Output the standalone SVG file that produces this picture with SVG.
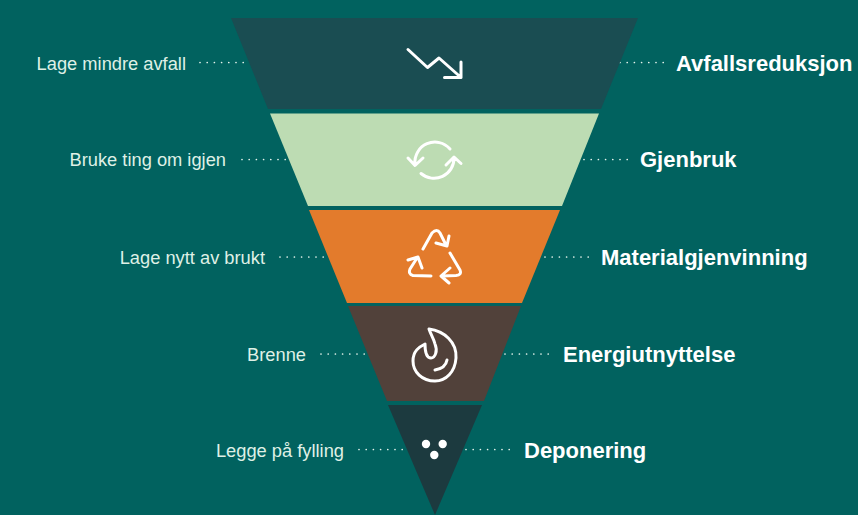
<svg xmlns="http://www.w3.org/2000/svg" width="858" height="515" viewBox="0 0 858 515">
<style>
.l{font:18.3px "Liberation Sans",Arial,sans-serif;fill:#dff0e6;text-anchor:end}
.r{font:bold 22px "Liberation Sans",Arial,sans-serif;fill:#fff}
.d{fill:none;stroke:#e6f3ec;stroke-width:1.7;stroke-linecap:round;stroke-dasharray:0 7.2}
.i{fill:none;stroke:#fff;stroke-width:3;stroke-linecap:round;stroke-linejoin:round}
</style>
<rect width="858" height="515" fill="#01625f"/>
<g id="connectors">
<path class="d" d="M200 62.5H245M620 62.5H664M242 159.5H286M584 159.5H628M280 257H325M545 257H589M321 354H365M505 354H549M359 449.5H404M466 449.5H510"/>
</g>
<g id="avfallsreduksjon">
<polygon points="231,18 638,18 601,109 268,109" fill="#1a4d52"/>
<path class="i" d="M408 49.5L427.5 67.5L439 58L461 77.5M461 62V77.5H444.5"/>
<text class="l" x="186" y="69.5">Lage mindre avfall</text>
<text class="r" x="676" y="70.5">Avfallsreduksjon</text>
</g>
<g id="gjenbruk">
<polygon points="270,113.5 599,113.5 562,206 308,206" fill="#bddcb3"/>
<path class="i" d="M415 164A20 20 0 0 1 450 149M408 158L415 165.5L423 158M421 173.5A20 20 0 0 0 454 158M446 165L454 157L461 163.5"/>
<text class="l" x="226" y="166">Bruke ting om igjen</text>
<text class="r" x="640" y="167">Gjenbruk</text>
</g>
<g id="materialgjenvinning">
<polygon points="309,210 560,210 522,303 347,303" fill="#e37b2c"/>
<path class="i" d="M423 249L432 233Q437 228 440 233L446 245M449 236L447 246L436 243M450 253L460 270Q462 275 456 275.500L442 276M450 268L441 276L449 283M431 276L413 275.500Q408 274 410 269L417 258M408 260L418 257L422 268"/>
<text class="l" x="265" y="263.500">Lage nytt av brukt</text>
<text class="r" x="601" y="264.500">Materialgjenvinning</text>
</g>
<g id="energiutnyttelse">
<polygon points="348,306 521,306 484,401 387,401" fill="#51413a"/>
<path class="i" d="M429 329C444 331 457 342 456 358C455 372 446 381 435 381C422 381 413 372 413 361C413 351 419 347 425 344C425 350 426 358 431 358C435 358 438 351 435 344C434 339 431 335 429 329ZM435 370C441 369 446 366 447 360"/>
<text class="l" x="306" y="360.500">Brenne</text>
<text class="r" x="563" y="361.500">Energiutnyttelse</text>
</g>
<g id="deponering">
<polygon points="388,405 482,405 435,515" fill="#1c3a3f"/>
<g fill="#fff"><circle cx="426" cy="444" r="4.200"/><circle cx="442.700" cy="444" r="4.200"/><circle cx="434.300" cy="455" r="4.200"/></g>
<text class="l" x="344" y="456.500">Legge på fylling</text>
<text class="r" x="524" y="457.500">Deponering</text>
</g>
</svg>
